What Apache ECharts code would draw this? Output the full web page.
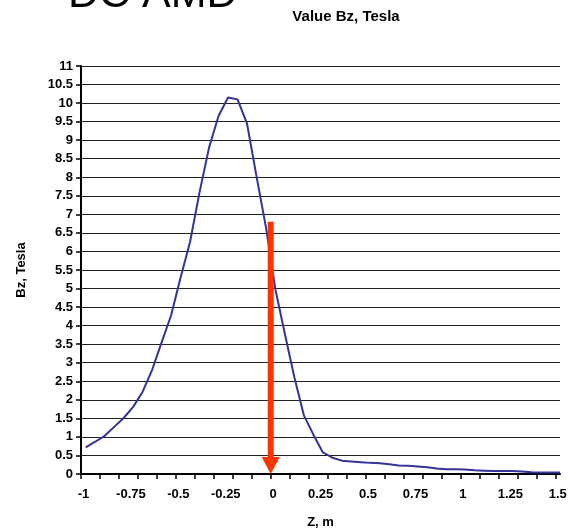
<!DOCTYPE html>
<html>
<head>
<meta charset="utf-8">
<script src="https://cdn.jsdelivr.net/npm/echarts@6/dist/echarts.min.js"></script>
<style>
html,body{margin:0;padding:0;background:#fff;}
#chart{width:569px;height:531px;}
</style>
</head>
<body>
<div id="chart"></div>
<script>
// ---- data ----
const zValues = [-0.975, -0.925, -0.875, -0.825, -0.775, -0.725, -0.675, -0.625, -0.575, -0.525,
  -0.475, -0.425, -0.375, -0.325, -0.275, -0.225, -0.175, -0.125, -0.075, -0.025,
  0.025, 0.075, 0.125, 0.175, 0.225, 0.275, 0.325, 0.375, 0.425, 0.475,
  0.525, 0.575, 0.625, 0.675, 0.725, 0.775, 0.825, 0.875, 0.925, 0.975,
  1.025, 1.075, 1.125, 1.175, 1.225, 1.275, 1.325, 1.375, 1.425, 1.475, 1.525];
const bzValues = [0.72, 0.87, 1.03, 1.27, 1.51, 1.81, 2.22, 2.81, 3.55, 4.28,
  5.30, 6.26, 7.60, 8.80, 9.65, 10.15, 10.10, 9.45, 8.03, 6.65,
  4.97, 3.77, 2.60, 1.58, 1.06, 0.58, 0.44, 0.36, 0.34, 0.32,
  0.30, 0.29, 0.26, 0.23, 0.22, 0.20, 0.18, 0.15, 0.13, 0.13,
  0.12, 0.10, 0.09, 0.08, 0.08, 0.08, 0.07, 0.05, 0.04, 0.04, 0.04];
// arrow marker: [z, top Bz, bottom Bz]
const arrowData = [[0, 6.8, 0]];
const titleText = 'DC AMD';
const subtitleText = 'Value Bz, Tesla';
const xName = 'Z, m';
const yName = 'Bz, Tesla';
const xMin = -1, xMax = 1.525, xLabelStep = 0.25, xTickMax = 1.5, xTickStep = 0.1;
const yMin = 0, yMax = 11, yStep = 0.5;

const FONT = '"Liberation Sans", Arial, sans-serif';
const chart = echarts.init(document.getElementById('chart'), null, {renderer: 'canvas'});

const lineData = zValues.map((z, i) => [z, bzValues[i]]);

const option = {
  animation: false,
  backgroundColor: '#fff',
  textStyle: {fontFamily: FONT},
  graphic: [
    {type: 'text', x: 68, y: -5, style: {text: titleText, fontSize: 43, fontFamily: FONT, fill: '#000', align: 'left', verticalAlign: 'middle'}},
    {type: 'text', x: 346, y: 17, style: {text: subtitleText, fontSize: 15, fontWeight: 'bold', fontFamily: FONT, fill: '#000', align: 'center', verticalAlign: 'middle'}}
  ],
  grid: [
    {left: 81, right: 9, top: 66, bottom: 57, outerBoundsMode: 'none', containLabel: false},
    {left: 81, right: 13.7, top: 66, bottom: 57, outerBoundsMode: 'none', containLabel: false}
  ],
  xAxis: [
    {
      type: 'value', gridIndex: 0, min: xMin, max: xMax, interval: xLabelStep,
      axisLine: {show: true, onZero: false, lineStyle: {color: '#000', width: 2}},
      axisTick: {show: false},
      splitLine: {show: false},
      axisLabel: {show: true, showMaxLabel: false, fontSize: 13, fontWeight: 'bold', color: '#000', margin: 14, fontFamily: FONT, padding: [0, 0, 0, 5]},
      name: xName, nameLocation: 'middle', nameGap: 42,
      nameTextStyle: {fontSize: 13, fontWeight: 'bold', color: '#000', fontFamily: FONT}
    },
    {
      type: 'value', gridIndex: 1, min: xMin, max: xTickMax, interval: xTickStep,
      axisLine: {show: false, onZero: false},
      axisTick: {show: true, length: 5, lineStyle: {color: '#000', width: 1.5}},
      axisLabel: {show: false},
      splitLine: {show: false}
    }
  ],
  yAxis: [
    {
      type: 'value', gridIndex: 0, min: yMin, max: yMax, interval: yStep,
      axisLine: {show: true, onZero: false, lineStyle: {color: '#000', width: 2}},
      axisTick: {show: true, length: 5, lineStyle: {color: '#000', width: 1.5}},
      splitLine: {show: true, lineStyle: {color: '#222', width: 1}},
      axisLabel: {fontSize: 13, fontWeight: 'bold', color: '#000', margin: 8, fontFamily: FONT},
      name: yName, nameLocation: 'middle', nameGap: 53,
      nameTextStyle: {fontSize: 13, fontWeight: 'bold', color: '#000', fontFamily: FONT}
    },
    {type: 'value', gridIndex: 1, min: 0, max: 1, show: false}
  ],
  series: [
    {
      type: 'line', xAxisIndex: 0, yAxisIndex: 0, data: lineData,
      showSymbol: false, symbol: 'none',
      lineStyle: {color: '#333399', width: 2},
      z: 3
    },
    {
      type: 'custom', xAxisIndex: 0, yAxisIndex: 0, data: arrowData, z: 5,
      renderItem: function (params, api) {
        const top = api.coord([api.value(0), api.value(1)]);
        const bot = api.coord([api.value(0), api.value(2)]);
        const headH = 17, headW = 18, shaftW = 6, color = '#ff3300';
        return {
          type: 'group',
          children: [
            {type: 'rect', shape: {x: top[0] - shaftW / 2, y: top[1], width: shaftW, height: bot[1] - headH - top[1] + 1}, style: {fill: color}},
            {type: 'polygon', shape: {points: [[bot[0] - headW / 2, bot[1] - headH], [bot[0] + headW / 2, bot[1] - headH], [bot[0], bot[1]]]}, style: {fill: color}}
          ]
        };
      }
    }
  ]
};
chart.setOption(option);
</script>
</body>
</html>
